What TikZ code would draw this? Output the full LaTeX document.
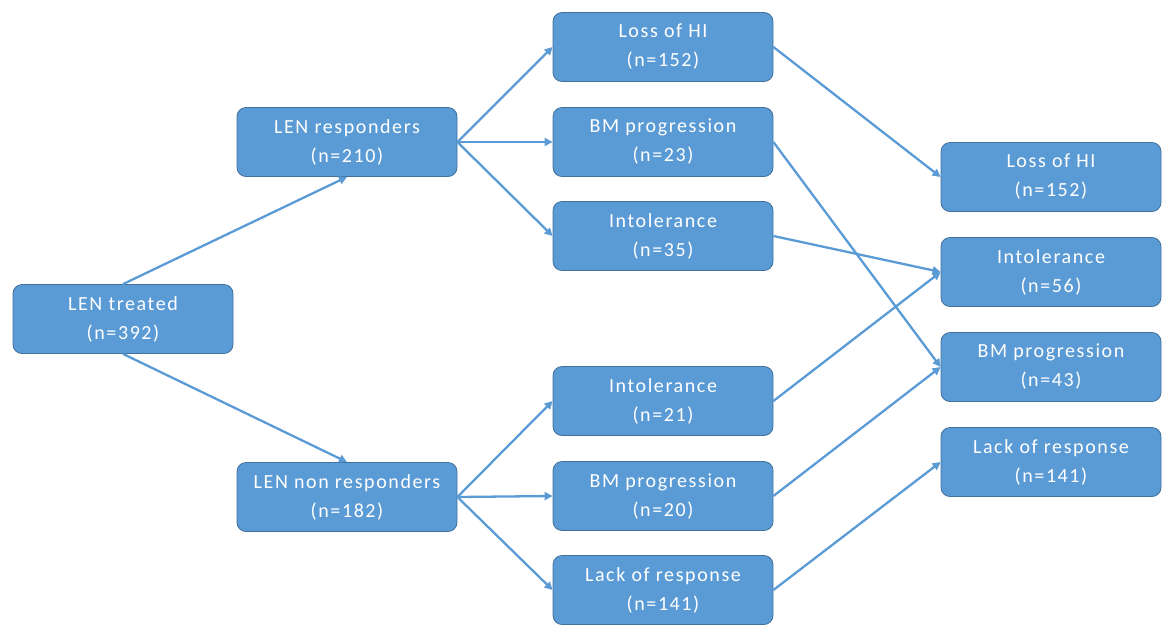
\documentclass[tikz,border=0pt]{standalone}
\usepackage{fontspec}
\setmainfont{Carlito}[LetterSpace=8]
\usetikzlibrary{arrows.meta}
\definecolor{boxfill}{HTML}{5B9BD5}
\definecolor{boxedge}{HTML}{41719C}
\definecolor{arrowc}{HTML}{5B9BD5}
\tikzset{
  box/.style={draw=boxedge, line width=0.8pt, fill=boxfill, rounded corners=9pt,
    minimum width=220pt, minimum height=69pt, align=center, text=white,
    font=\fontsize{20}{29}\selectfont, inner sep=2pt},
  conn/.style={draw=arrowc, line width=2.3pt, -{Triangle[length=8pt,width=8pt]}}
}
\begin{document}
\begin{tikzpicture}[x=1pt,y=-1pt]
\useasboundingbox (0,0) rectangle (1162,627);
\node[box] (treated) at (123,319) {LEN treated\\(n=392)};
\node[box] (resp) at (347,142) {LEN responders\\(n=210)};
\node[box] (nonresp) at (347,497) {LEN non responders\\(n=182)};
\node[box] (lossA) at (663,47) {Loss of HI\\(n=152)};
\node[box] (bmA) at (663,142) {BM progression\\(n=23)};
\node[box] (intA) at (663,236) {Intolerance\\(n=35)};
\node[box] (intB) at (663,401) {Intolerance\\(n=21)};
\node[box] (bmB) at (663,496) {BM progression\\(n=20)};
\node[box] (lackB) at (663,590) {Lack of response\\(n=141)};
\node[box] (lossR) at (1051,177) {Loss of HI\\(n=152)};
\node[box] (intR) at (1051,272) {Intolerance\\(n=56)};
\node[box] (bmR) at (1051,367) {BM progression\\(n=43)};
\node[box] (lackR) at (1051,462) {Lack of response\\(n=141)};
\draw[conn] (treated.north) -- (resp.south);
\draw[conn] (treated.south) -- (nonresp.north);
\draw[conn] (resp.east) -- (lossA.west);
\draw[conn] (resp.east) -- (bmA.west);
\draw[conn] (resp.east) -- (intA.west);
\draw[conn] (nonresp.east) -- (intB.west);
\draw[conn] (nonresp.east) -- (bmB.west);
\draw[conn] (nonresp.east) -- (lackB.west);
\draw[conn] (lossA.east) -- (lossR.west);
\draw[conn] (bmA.east) -- (bmR.west);
\draw[conn] (intA.east) -- (intR.west);
\draw[conn] (intB.east) -- (intR.west);
\draw[conn] (bmB.east) -- (bmR.west);
\draw[conn] (lackB.east) -- (lackR.west);
\end{tikzpicture}
\end{document}
